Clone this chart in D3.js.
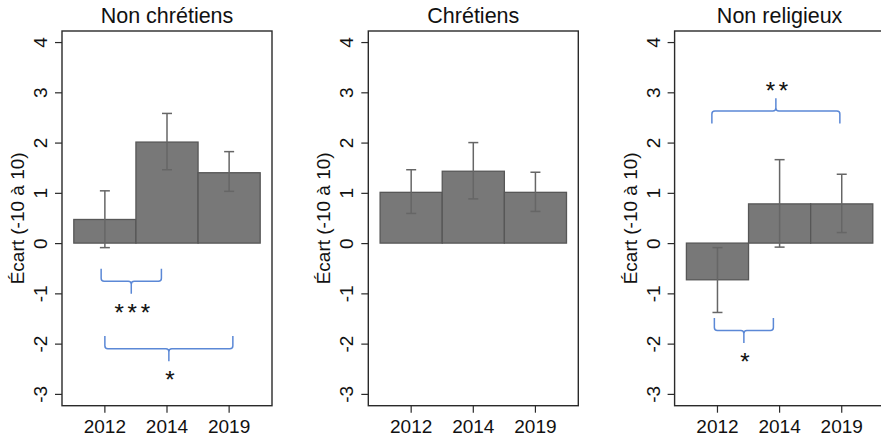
<!DOCTYPE html>
<html>
<head>
<meta charset="utf-8">
<script src="https://cdn.jsdelivr.net/npm/d3@7"></script>
<style>
  html, body { margin: 0; padding: 0; background: #fff; }
  svg { display: block; font-family: "Liberation Sans", Arial, Helvetica, sans-serif; }
</style>
</head>
<body>
<svg id="chart" width="881" height="440"></svg>
<script>
// ---------- data ----------
const years = ["2012", "2014", "2019"];
const panelTitles = ["Non chrétiens", "Chrétiens", "Non religieux"];
const means = [
  [0.47, 2.01, 1.40],
  [1.01, 1.43, 1.01],
  [-0.73, 0.78, 0.78]
];
const lowerCI = [
  [-0.09, 1.46, 1.03],
  [0.59, 0.88, 0.63],
  [-1.38, -0.08, 0.21]
];
const upperCI = [
  [1.04, 2.58, 1.82],
  [1.46, 2.00, 1.41],
  [-0.09, 1.66, 1.37]
];
const yTicks = [-3, -2, -1, 0, 1, 2, 3, 4];
const yLabel = "Écart (-10 à 10)";

// significance braces: panel index, from / to (in year-index units), level of the brace line, direction, label
const bracePanel = [0, 0, 2, 2];
const braceFrom  = [-0.06, 0.00, -0.09, -0.05];
const braceTo    = [0.91, 2.06, 1.97, 0.90];
const braceLevel = [-0.76, -2.10, 2.63, -1.74];
const braceDir   = ["down", "down", "up", "down"];
const braceLabel = ["***", "*", "**", "*"];

// ---------- layout ----------
const panelLeft = [62, 368.3, 674.6];
const panelW = 210;
const plotTop = 31, plotBottom = 405.7;
const fontAxis = 19, fontTitle = 21.5;

const svg = d3.select("#chart");
svg.append("rect").attr("width", 881).attr("height", 440).attr("fill", "#fff");

const y = d3.scaleLinear().domain([-3.235, 4.22]).range([plotBottom, plotTop]);

const barFill = "#787878", barStroke = "#575757", errColor = "#666666", braceColor = "#5b88d6";

panelTitles.forEach((title, p) => {
  const g = svg.append("g").attr("transform", `translate(${panelLeft[p]},0)`);
  const x = d3.scaleBand().domain(years).range([0, panelW]).paddingInner(0).paddingOuter(0.19);
  const xi = d3.scaleLinear().domain([0, 1]).range([x(years[0]) + x.bandwidth() / 2, x(years[1]) + x.bandwidth() / 2]);

  // bars
  g.selectAll("rect.bar").data(years).join("rect")
    .attr("class", "bar")
    .attr("x", d => x(d))
    .attr("width", x.bandwidth())
    .attr("y", (d, i) => y(Math.max(0, means[p][i])))
    .attr("height", (d, i) => Math.abs(y(means[p][i]) - y(0)))
    .attr("fill", barFill)
    .attr("stroke", barStroke)
    .attr("stroke-width", 1.3);

  // error bars
  const eb = g.selectAll("g.err").data(years).join("g").attr("class", "err")
    .attr("stroke", errColor).attr("stroke-width", 1.5);
  eb.append("line")
    .attr("x1", d => x(d) + x.bandwidth() / 2).attr("x2", d => x(d) + x.bandwidth() / 2)
    .attr("y1", (d, i) => y(lowerCI[p][i])).attr("y2", (d, i) => y(upperCI[p][i]));
  eb.append("line")
    .attr("x1", d => x(d) + x.bandwidth() / 2 - 5).attr("x2", d => x(d) + x.bandwidth() / 2 + 5)
    .attr("y1", (d, i) => y(upperCI[p][i])).attr("y2", (d, i) => y(upperCI[p][i]));
  eb.append("line")
    .attr("x1", d => x(d) + x.bandwidth() / 2 - 5).attr("x2", d => x(d) + x.bandwidth() / 2 + 5)
    .attr("y1", (d, i) => y(lowerCI[p][i])).attr("y2", (d, i) => y(lowerCI[p][i]));

  // box
  g.append("rect").attr("x", 0).attr("y", plotTop).attr("width", panelW).attr("height", plotBottom - plotTop)
    .attr("fill", "none").attr("stroke", "#2a2a2a").attr("stroke-width", 1.4);

  // y axis
  const ya = g.append("g").call(d3.axisLeft(y).tickValues(yTicks).tickSize(7).tickFormat(d => String(d)));
  ya.select(".domain").remove();
  ya.selectAll(".tick line").attr("stroke", "#2a2a2a").attr("stroke-width", 1.2);
  ya.selectAll(".tick text")
    .attr("font-size", fontAxis).attr("fill", "#111")
    .attr("x", null).attr("dy", null)
    .attr("text-anchor", "middle")
    .attr("transform", "translate(-15,0) rotate(-90)");

  // x axis
  const xa = g.append("g").attr("transform", `translate(0,${plotBottom})`)
    .call(d3.axisBottom(x).tickSize(7));
  xa.select(".domain").remove();
  xa.selectAll(".tick line").attr("stroke", "#2a2a2a").attr("stroke-width", 1.2);
  xa.selectAll(".tick text").attr("font-size", fontAxis).attr("fill", "#111")
    .attr("y", 27.5).attr("dy", null);

  // title
  g.append("text").attr("x", panelW / 2).attr("y", 22.5).attr("text-anchor", "middle")
    .attr("font-size", fontTitle).attr("fill", "#111").text(title);

  // y label
  g.append("text")
    .attr("transform", `translate(-38,${(plotTop + plotBottom) / 2}) rotate(-90)`)
    .attr("text-anchor", "middle").attr("font-size", fontAxis).attr("fill", "#111")
    .text(yLabel);

  // braces
  bracePanel.forEach((bp, k) => {
    if (bp !== p) return;
    const x1 = xi(braceFrom[k]), x2 = xi(braceTo[k]);
    const xm = (x1 + x2) / 2;
    const ly = y(braceLevel[k]);
    const s = braceDir[k] === "down" ? 1 : -1;
    const h = y(0) - y(0.25);
    const endY = ly - s * h, tipY = ly + s * h;
    const r = 3;
    const path = d3.path();
    path.moveTo(x1, endY);
    path.lineTo(x1, ly - s * r);
    path.quadraticCurveTo(x1, ly, x1 + r, ly);
    path.lineTo(xm - r, ly);
    path.quadraticCurveTo(xm, ly, xm, ly + s * r);
    path.lineTo(xm, tipY);
    path.moveTo(xm, ly + s * r);
    path.quadraticCurveTo(xm, ly, xm + r, ly);
    path.lineTo(x2 - r, ly);
    path.quadraticCurveTo(x2, ly, x2, ly - s * r);
    path.lineTo(x2, endY);
    g.append("path").attr("d", path.toString()).attr("fill", "none")
      .attr("stroke", braceColor).attr("stroke-width", 1.5);
    const fs = 24, ls = 3.8;
    const cy = tipY + s * 13;
    g.append("text")
      .attr("x", xm + ls / 2 + 1).attr("y", cy + 0.58 * fs)
      .attr("text-anchor", "middle").attr("font-size", fs)
      .attr("letter-spacing", ls).attr("fill", "#111")
      .attr("stroke", "#111").attr("stroke-width", 0.15)
      .text(braceLabel[k]);
  });
});
</script>
</body>
</html>
